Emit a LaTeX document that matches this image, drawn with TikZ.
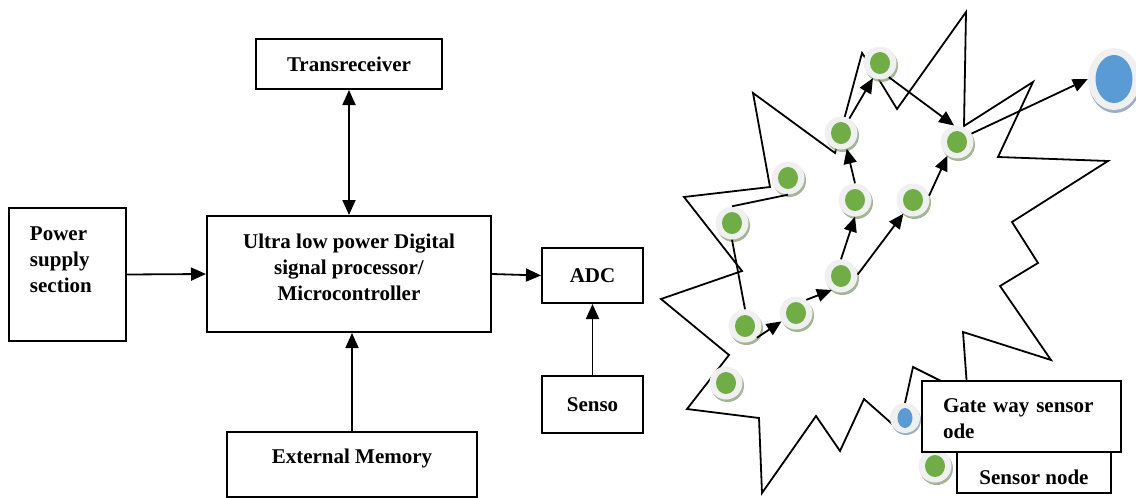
\documentclass[tikz,border=0pt]{standalone}
\usepackage{fontspec}
\setmainfont{Liberation Serif}
\usetikzlibrary{arrows.meta,shapes.geometric,shadows}

\definecolor{ringgray}{RGB}{240,240,240}
\definecolor{leafgreen}{RGB}{112,173,71}
\definecolor{skyblue}{RGB}{91,155,213}
\definecolor{shadegreen}{RGB}{125,150,105}
\definecolor{shadeblue}{RGB}{115,140,175}

\tikzset{
	block/.style={draw, line width=2pt, font=\fontsize{21}{26}\selectfont\bfseries, align=center, inner sep=0pt},
	link/.style={line width=1.8pt, >={Triangle[length=15pt,width=13pt]}},
	sensor/.style={circle, inner sep=0pt, minimum size=33pt, fill=ringgray,
		drop shadow={shadow xshift=1.5pt, shadow yshift=-2.5pt, fill=shadegreen, opacity=.7},
		path picture={\fill[leafgreen] (path picture bounding box.center) ellipse [x radius=10pt, y radius=11pt];}},
	gateway/.style={circle, inner sep=0pt, minimum size=30pt, fill=ringgray,
		drop shadow={shadow xshift=1pt, shadow yshift=-2pt, fill=shadeblue, opacity=.7},
		path picture={\fill[skyblue] (path picture bounding box.center) ellipse [x radius=7.5pt, y radius=10pt];}},
	sink/.style={ellipse, inner sep=0pt, minimum width=52pt, minimum height=62pt, fill=ringgray,
		drop shadow={shadow xshift=1pt, shadow yshift=-3pt, fill=shadeblue, opacity=.7},
		path picture={\fill[skyblue] (path picture bounding box.center) ellipse [x radius=18.5pt, y radius=24pt];}},
}

\begin{document}
\begin{tikzpicture}[x=1pt, y=-1pt]
	\useasboundingbox (0,0) rectangle (1136,498);

	\node[block, text width=75pt, align=left, inner xsep=21pt, text height=32pt, text depth=101pt] (pss) at (67.5,274.5) {Power\\supply\\section};
	\node[block, minimum width=284pt, text height=84pt, text depth=32pt] (mcu) at (349,274) {Ultra low power Digital\\signal processor/\\Microcontroller};
	\node[block, minimum width=186pt, minimum height=50pt] (trx) at (349,64) {Transreceiver};
	\node[block, minimum width=250pt, text height=31pt, text depth=34pt] (mem) at (352,464.5) {External Memory};
	\node[block, minimum width=101pt, minimum height=55pt] (adc) at (592.5,275.5) {ADC};
	\node[block, minimum width=101pt, minimum height=57pt] (senso) at (592.5,404.5) {Senso};

	\draw[link, ->] (pss.east) -- (mcu.west);
	\draw[link, ->] (mcu.east) -- (adc.west);
	\draw[link, <->] (trx) -- (mcu);
	\draw[link, ->] (mem.north) -- (mem.north |- mcu.south);
	\draw[link, ->] (senso) -- (adc);

	% network area
	\draw[line width=1.8pt] (684,197) -- (770,187) -- (753,93) -- (835,153) -- (862,53) -- (870,65)
		-- (897,109) -- (966,12) -- (964,126) -- (1033,82) -- (998,157) -- (1108,161) -- (1012,222)
		-- (1038,263) -- (1000,286) -- (1051,360) -- (963,332) -- (968,400) -- (947,384) -- (913,367)
		-- (899,430) -- (864,399) -- (840,451) -- (816,416) -- (762,493) -- (759,418) -- (687,409)
		-- (729,355) -- (661,299) -- (742,271) -- cycle;

	\node[sensor] (s1) at (732,223) {};
	\node[sensor] (s2) at (788,178) {};
	\node[sensor] (s3) at (841,133) {};
	\node[sensor] (s4) at (880,63) {};
	\node[sensor] (s5) at (957,142) {};
	\node[sensor] (s6) at (855,200) {};
	\node[sensor] (s7) at (913,200) {};
	\node[sensor] (s8) at (841,276) {};
	\node[sensor] (s9) at (796,313) {};
	\node[sensor] (s10) at (745,326) {};
	\node[sensor] (s11) at (726,383) {};
	\node[gateway] (gw) at (905,418) {};
	\node[sink] (base) at (1114,79) {};

	\draw[line width=1.8pt] (s1.north) -- (s2.south);
	\draw[line width=1.8pt] (s1.south) -- (s10.north);
	\draw[link, ->] (s10.-45) -- (s9.210);
	\draw[link, ->] (s9.52) -- (s8.237);
	\draw[link, ->] (s8.north) -- (s6.south);
	\draw[link, ->] (s6.north) -- (s3.-70);
	\draw[link, ->] (s3.60) -- (s4.245);
	\draw[link, ->] (s4.-58) -- (s5.100);
	\draw[link, ->] (s8.5) -- (s7.235);
	\draw[link, ->] (s7.15) -- (s5.235);
	\draw[link, ->] (s5.30) -- (base.west);

	% legend
	\node[sensor] (key) at (935,466) {};
	\node[block, fill=white, minimum width=154pt, text height=32pt, text depth=9pt] (keynode) at (1034,472.5) {Sensor node};
	\node[block, fill=white, text width=157pt, align=left, inner xsep=21pt, text height=31pt, text depth=40pt] (keygw) at (1021.5,416.5) {Gate way sensor\\ode};
\end{tikzpicture}
\end{document}
